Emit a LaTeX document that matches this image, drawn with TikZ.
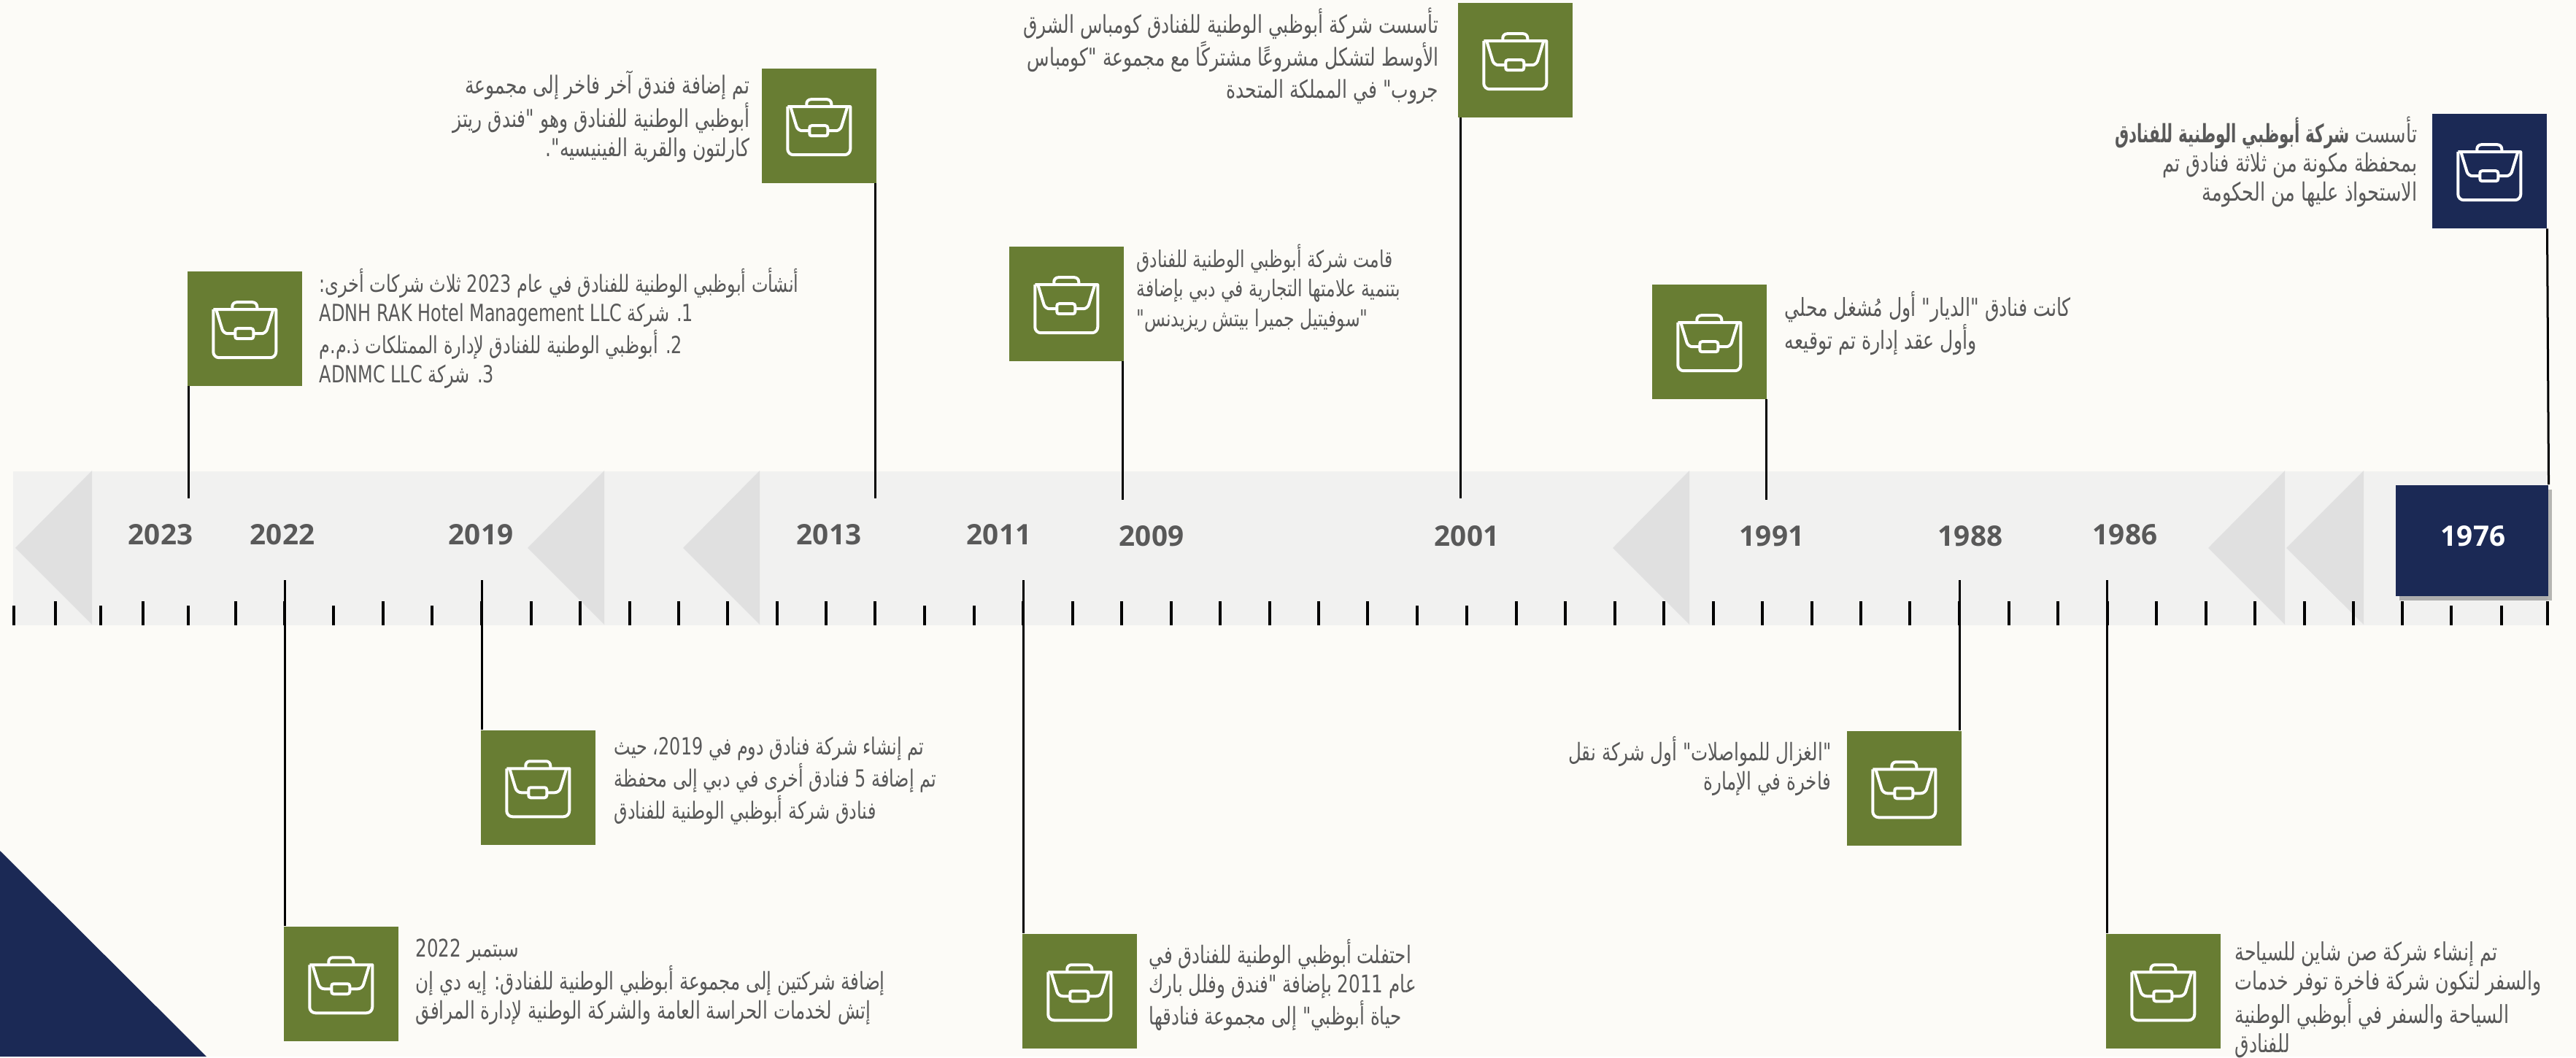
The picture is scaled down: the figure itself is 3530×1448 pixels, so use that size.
\documentclass[tikz,border=0pt]{standalone}
\usepackage{fontspec}
\usetikzlibrary{shadows}
\TeXXeTstate=1
\newfontfamily\arabicfont[Script=Arabic,FakeStretch=0.74]{DejaVu Sans}
\newfontfamily\arabicbold[Script=Arabic,FakeStretch=0.62]{DejaVu Sans}
\newfontfamily\yearfont{Open Sans}
\newcommand{\rtl}[1]{\beginR #1\endR}
\newcommand{\ltr}[1]{\beginL #1\endL}
\definecolor{pagebg}{HTML}{FCFBF7}
\definecolor{bandgray}{HTML}{F1F1F0}
\definecolor{wedgegray}{HTML}{E0E0E0}
\definecolor{boxgreen}{HTML}{687D33}
\definecolor{boxblue}{HTML}{1B2955}
\definecolor{txtgray}{HTML}{595959}
\tikzset{
bagicon/.pic={
  \draw[white, line width=0.04cm, rounded corners=0.06cm] (-17,-26) -- (-17,-36) -- (17,-36) -- (17,-26);
  \draw[white, line width=0.04cm, line join=round] (-43,-26) -- (43,-26) [rounded corners=0.08cm] -- (43,40) -- (-43,40) -- (-43,-26);
  \draw[white, line width=0.04cm, rounded corners=0.06cm] (-39,-26) -- (-29,7) -- (-13,7);
  \draw[white, line width=0.04cm, rounded corners=0.06cm] (39,-26) -- (29,7) -- (12,7);
  \draw[white, line width=0.04cm, rounded corners=0.03cm] (-13,0) rectangle (12,14);
}}
\begin{document}
\begin{tikzpicture}[
x=0.01cm, y=-0.01cm,
greenbox/.style={fill=boxgreen, anchor=north west, inner sep=0pt, minimum size=1.57cm},
bluebox/.style={fill=boxblue, anchor=north west, inner sep=0pt, minimum size=1.57cm},
stem/.style={black, line width=0.03cm},
tick/.style={black, line width=0.04cm},
year/.style={font=\yearfont\bfseries\fontsize{11}{13}\selectfont, text=txtgray, inner sep=0pt},
note/.style={font=\arabicfont\fontsize{#1}{11.4}\selectfont, text=txtgray, inner sep=0pt},
note/.default=9.2,
bignote/.style={font=\arabicfont\fontsize{#1}{12.6}\selectfont, text=txtgray, inner sep=0pt},
bignote/.default=9.6
]
\fill[pagebg] (0,0) rectangle (3530,1448);
\fill[boxblue] (0,1166) -- (283,1448) -- (0,1448) -- cycle;

% band with its wedges and ticks
\fill[bandgray] (18,646) rectangle (3491,857);
\foreach \ax/\bx in {21/126,723/828,936/1041,2210/2315,3026/3131,3133/3239}
  \fill[wedgegray] (\ax,751) -- (\bx,645) -- (\bx,856) -- cycle;
\foreach \tx in {76,196,323,390,525,660,728,795,863,930,997,1065,1132,1199,1402,1470,1537,1605,1672,1740,1807,1874,2078,2145,2213,2280,2348,2415,2483,2550,2617,2685,2753,2820,2888,2955,3023,3090,3158,3225,3292,3491}
  \draw[tick] (\tx,824) -- (\tx,857);
\foreach \tx in {19,138,258,457,592,1267,1335,1942,2010,3359,3428}
  \draw[tick] (\tx,830) -- (\tx,857);

% years
\node[year] (y2023) at (220,733) {2023};
\node[year] (y2022) at (387,733) {2022};
\node[year] (y2019) at (659,733) {2019};
\node[year] (y2013) at (1136,733) {2013};
\node[year] (y2011) at (1369,733) {2011};
\node[year] (y2009) at (1578,735) {2009};
\node[year] (y2001) at (2010,735) {2001};
\node[year] (y1991) at (2428,735) {1991};
\node[year] (y1988) at (2700,735) {1988};
\node[year] (y1986) at (2912,733) {1986};
\node[fill=boxblue, inner sep=0pt, minimum width=2.09cm, minimum height=1.52cm, anchor=north west,
  general shadow={fill=black, opacity=0.28, shadow xshift=0.05cm, shadow yshift=-0.06cm}] (b1976y) at (3282,664) {};
\node[year, text=white] (y1976) at (3389,735) {1976};

% boxes above the band
\node[greenbox] (b2023) at (256,371) {};
\node[greenbox] (b2013) at (1043,93) {};
\node[greenbox] (b2009) at (1382,337) {};
\node[greenbox] (b2001) at (1997,3) {};
\node[greenbox] (b1991) at (2263,389) {};
\node[bluebox] (b1976) at (3332,155) {};

% boxes below the band
\node[greenbox] (b2022) at (388,1269) {};
\node[greenbox] (b2019) at (658,1000) {};
\node[greenbox] (b2011) at (1400,1279) {};
\node[greenbox] (b1988) at (2530,1001) {};
\node[greenbox] (b1986) at (2885,1279) {};

\foreach \bn in {b2023,b2013,b2009,b2001,b1991,b1976,b2022,b2019,b2011,b1988,b1986}
  \pic at (\bn) {bagicon};

\coordinate (c2023) at (258,683);
\coordinate (c2013) at (1199,683);
\coordinate (c2009) at (1538,685);
\coordinate (c2001) at (2001,683);
\coordinate (c1991) at (2420,685);
\coordinate (c2022) at (390,795);
\coordinate (c2019) at (660,795);
\coordinate (c2011) at (1402,795);
\coordinate (c1988) at (2685,795);
\coordinate (c1986) at (2887,795);
\foreach \yr in {2023,2013,2009,2001,1991}
  \draw[stem] (c\yr |- b\yr.south) -- (c\yr);
\foreach \yr in {2022,2019,2011,1988,1986}
  \draw[stem] (c\yr) -- (c\yr |- b\yr.north);
\draw[stem] (b1976.south east) -- (b1976y.north east);

% texts
\node[note=9.6, anchor=east, align=right] (t2013) at (1028,160) {%
  \rtl{تم إضافة فندق آخر فاخر إلى مجموعة}\\
  \rtl{أبوظبي الوطنية للفنادق وهو "فندق ريتز}\\
  \rtl{كارلتون والقرية الفينيسيه".}};
\node[note, anchor=west, align=left] (t2023) at (437,450) {%
  \rtl{أنشأت أبوظبي الوطنية للفنادق في عام \ltr{2023} ثلاث شركات أخرى:}\\
  \rtl{\ltr{1}. شركة \ltr{ADNH RAK Hotel Management LLC}}\\
  \rtl{\ltr{2}. أبوظبي الوطنية للفنادق لإدارة الممتلكات ذ.م.م}\\
  \rtl{\ltr{3}. شركة \ltr{ADNMC LLC}}};
\node[bignote, anchor=east, align=right] (t2001) at (1972,77) {%
  \rtl{تأسست شركة أبوظبي الوطنية للفنادق كومباس الشرق}\\
  \rtl{الأوسط لتشكل مشروعًا مشتركًا مع مجموعة "كومباس}\\
  \rtl{جروب" في المملكة المتحدة}};
\node[note=9, anchor=west, align=left] (t2009) at (1557,395) {%
  \rtl{قامت شركة أبوظبي الوطنية للفنادق}\\
  \rtl{بتنمية علامتها التجارية في دبي بإضافة}\\
  \rtl{"سوفيتيل جميرا بيتش ريزيدنس"}};
\node[bignote=9.7, anchor=west, align=left] (t1991) at (2445,443) {%
  \rtl{كانت فنادق "الديار" أول مُشغل محلي}\\
  \rtl{وأول عقد إدارة تم توقيعه}};
\node[note=9.85, anchor=east, align=right] (t1976) at (3313,222) {%
  \rtl{تأسست {\arabicbold\bfseries شركة أبوظبي الوطنية للفنادق}}\\
  \rtl{بمحفظة مكونة من ثلاثة فنادق تم}\\
  \rtl{الاستحواذ عليها من الحكومة}};
\node[note, anchor=west, align=left] (t2019) at (841,1070) {%
  \rtl{تم إنشاء شركة فنادق دوم في \ltr{2019}، حيث}\\
  \rtl{تم إضافة \ltr{5} فنادق أخرى في دبي إلى محفظة}\\
  \rtl{فنادق شركة أبوظبي الوطنية للفنادق}};
\node[note=9.45, anchor=west, align=left] (t2022) at (569,1346) {%
  \rtl{سبتمبر \ltr{2022}}\\
  \rtl{إضافة شركتين إلى مجموعة أبوظبي الوطنية للفنادق: إيه دي إن}\\
  \rtl{إتش لخدمات الحراسة العامة والشركة الوطنية لإدارة المرافق}};
\node[note=9.45, anchor=west, align=left] (t2011) at (1574,1350) {%
  \rtl{احتفلت أبوظبي الوطنية للفنادق في}\\
  \rtl{عام \ltr{2011} بإضافة "فندق وفلل بارك}\\
  \rtl{حياة أبوظبي" إلى مجموعة فنادقها}};
\node[note=9.45, anchor=east, align=right] (t1988) at (2510,1050) {%
  \rtl{"الغزال للمواصلات" أول شركة نقل}\\
  \rtl{فاخرة في الإمارة}};
\node[note=9.7, anchor=west, align=left] (t1986) at (3062,1370) {%
  \rtl{تم إنشاء شركة صن شاين للسياحة}\\
  \rtl{والسفر لتكون شركة فاخرة توفر خدمات}\\
  \rtl{السياحة والسفر في أبوظبي الوطنية}\\
  \rtl{للفنادق}};
\end{tikzpicture}
\end{document}
